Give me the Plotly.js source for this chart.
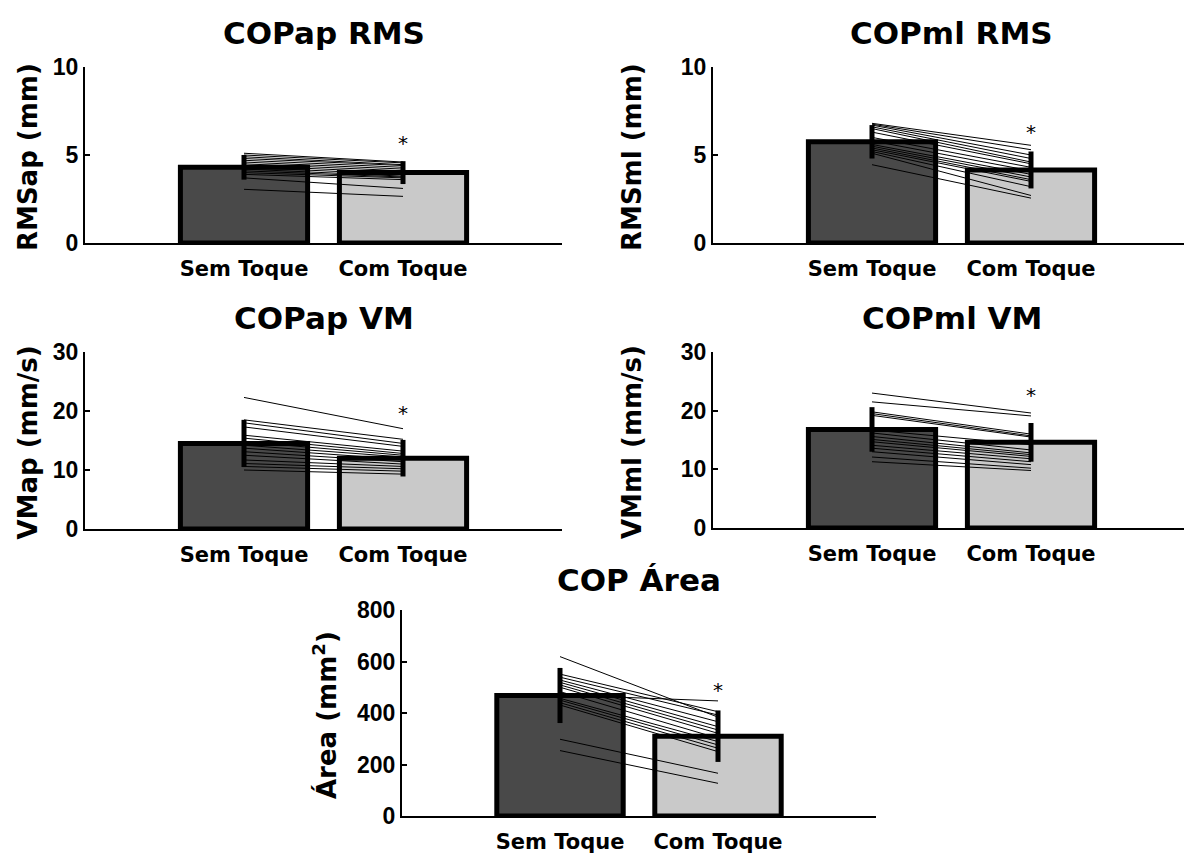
<!DOCTYPE html>
<html>
<head>
<meta charset="utf-8">
<script src="https://cdn.plot.ly/plotly-3.0.1.min.js"></script>
<style>html,body{margin:0;padding:0;background:#fff;}#chart{width:1184px;height:854px;}</style>
</head>
<body>
<div id="chart"></div>
<script>
// ---------------- data ----------------
const categories = ['Sem Toque', 'Com Toque'];
const catPos = [1, 2];

const rmsapMean = [4.3, 4.0];
const rmsapSD = [0.7, 0.65];
const rmsapSem = [5.1, 5.0, 4.9, 4.8, 4.7, 4.6, 4.5, 4.4, 4.3, 4.2, 4.1, 4.0, 3.9, 3.7, 3.05];
const rmsapCom = [4.6, 4.55, 4.45, 4.4, 4.3, 4.2, 4.1, 4.0, 3.9, 3.8, 3.75, 3.7, 3.6, 3.1, 2.65];
const rmsapStar = 5.7;

const rmsmlMean = [5.75, 4.15];
const rmsmlSD = [0.95, 1.05];
const rmsmlSem = [6.8, 6.75, 6.7, 6.6, 6.5, 6.3, 6.0, 5.8, 5.6, 5.5, 5.4, 5.3, 5.2, 5.1, 4.45];
const rmsmlCom = [5.55, 5.3, 5.0, 4.8, 4.6, 4.5, 4.3, 4.1, 3.9, 3.75, 3.6, 3.5, 3.2, 2.7, 2.55];
const rmsmlStar = 6.3;

const vmapMean = [14.5, 12.0];
const vmapSD = [4.0, 3.1];
const vmapSem = [22.3, 18.5, 18.0, 17.3, 15.9, 15.4, 14.8, 14.2, 13.7, 13.1, 12.5, 11.7, 11.1, 10.6, 10.0];
const vmapCom = [17.0, 15.2, 14.5, 14.0, 13.2, 12.8, 12.5, 12.2, 11.8, 11.4, 11.0, 10.6, 10.2, 9.8, 9.3];
const vmapStar = 19.6;

const vmmlMean = [16.8, 14.6];
const vmmlSD = [3.8, 3.3];
const vmmlSem = [23.0, 21.5, 19.8, 19.5, 19.2, 16.7, 16.2, 15.6, 15.1, 14.7, 14.1, 13.6, 13.0, 12.1, 11.3];
const vmmlCom = [19.6, 19.1, 16.0, 15.7, 15.5, 14.2, 13.3, 12.8, 12.5, 12.2, 11.8, 11.3, 10.8, 10.2, 9.8];
const vmmlStar = 22.6;

const areaMean = [468, 310];
const areaSD = [107, 100];
const areaSem = [619, 551, 539, 528, 519, 509, 500, 483, 470, 457, 450, 440, 431, 298, 254];
const areaCom = [384, 405, 392, 366, 347, 334, 321, 302, 447, 289, 276, 263, 250, 166, 127];
const areaStar = 490;

const titles = ['COPap RMS', 'COPml RMS', 'COPap VM', 'COPml VM', 'COP Área'];
const yTitles = ['RMSap (mm)', 'RMSml (mm)', 'VMap (mm/s)', 'VMml (mm/s)', 'Área (mm<sup>2</sup>)'];
const yTicks = [[0, 5, 10], [0, 5, 10], [0, 10, 20, 30], [0, 10, 20, 30], [0, 200, 400, 600, 800]];

// ---------------- layout helpers ----------------
const W = 1184, H = 854;
const px = v => v / W;
const py = v => 1 - v / H;

const panels = [
  {mean: rmsapMean, sd: rmsapSD, sem: rmsapSem, com: rmsapCom, star: rmsapStar,
   xd: [85, 562], yd: [67, 243], xr: [0, 3], tTop: 33, ytX: 28},
  {mean: rmsmlMean, sd: rmsmlSD, sem: rmsmlSem, com: rmsmlCom, star: rmsmlStar,
   xd: [713, 1184], yd: [67, 243], xr: [0, (1184 - 713) / 159], tTop: 33, ytX: 632},
  {mean: vmapMean, sd: vmapSD, sem: vmapSem, com: vmapCom, star: vmapStar,
   xd: [85, 562], yd: [352, 529], xr: [0, 3], tTop: 318, ytX: 28},
  {mean: vmmlMean, sd: vmmlSD, sem: vmmlSem, com: vmmlCom, star: vmmlStar,
   xd: [713, 1184], yd: [352, 528], xr: [0, (1184 - 713) / 159], tTop: 318, ytX: 632},
  {mean: areaMean, sd: areaSD, sem: areaSem, com: areaCom, star: areaStar,
   xd: [402, 876], yd: [610, 816], xr: [0, 3], tTop: 580, ytX: 325}
];

const barColors = ['#494949', '#c9c9c9'];
const data = [];
const layout = {
  width: W, height: H,
  margin: {l: 0, r: 0, t: 0, b: 0},
  paper_bgcolor: '#ffffff', plot_bgcolor: 'rgba(0,0,0,0)',
  showlegend: false,
  annotations: []
};

panels.forEach((p, i) => {
  const n = i + 1;
  const xa = 'x' + (n === 1 ? '' : n), ya = 'y' + (n === 1 ? '' : n);
  const xk = 'xaxis' + (n === 1 ? '' : n), yk = 'yaxis' + (n === 1 ? '' : n);
  const yTop = yTicks[i][yTicks[i].length - 1];

  data.push({
    type: 'bar', x: catPos, y: p.mean, width: 0.8,
    xaxis: xa, yaxis: ya,
    marker: {color: barColors, line: {color: '#000', width: 5}},
    error_y: {type: 'data', array: p.sd, visible: true, color: '#000', thickness: 5, width: 0},
    hoverinfo: 'skip'
  });

  const lx = [], ly = [];
  p.sem.forEach((v, k) => { lx.push(catPos[0], catPos[1], null); ly.push(v, p.com[k], null); });
  data.push({
    type: 'scatter', mode: 'lines', x: lx, y: ly, xaxis: xa, yaxis: ya,
    line: {color: '#000', width: 1}, hoverinfo: 'skip', connectgaps: false
  });

  layout[xk] = {
    domain: [px(p.xd[0]), px(p.xd[1])], range: p.xr, anchor: ya,
    showline: true, linecolor: '#000', linewidth: 2, zeroline: false, showgrid: false,
    tickmode: 'array', tickvals: catPos, ticktext: categories,
    ticks: 'outside', ticklen: 6, tickcolor: 'rgba(0,0,0,0)',
    tickfont: {family: 'DejaVu Sans', size: 21, color: '#000', weight: 'bold'},
    fixedrange: true
  };
  layout[yk] = {
    domain: [py(p.yd[1]), py(p.yd[0])], range: [0, yTop], anchor: xa,
    showline: true, linecolor: '#000', linewidth: 2, zeroline: false, showgrid: false,
    tickmode: 'array', tickvals: yTicks[i],
    ticks: 'inside', ticklen: 5, tickwidth: 2, tickcolor: '#000',
    tickfont: {family: 'Liberation Sans', size: 23, color: '#000', weight: 'bold'},
    fixedrange: true
  };

  // panel title
  layout.annotations.push({
    xref: 'paper', yref: 'paper', x: px((p.xd[0] + (p.xd[0] + 477)) / 2 - (i === 4 ? 2 : 0)),
    y: py(p.tTop), xanchor: 'center', yanchor: 'middle', showarrow: false,
    text: titles[i], font: {family: 'DejaVu Sans', size: 31, color: '#000', weight: 'bold'}
  });
  // y axis title
  layout.annotations.push({
    xref: 'paper', yref: 'paper', x: px(p.ytX), y: py((p.yd[0] + p.yd[1]) / 2 + 2),
    xanchor: 'center', yanchor: 'middle', showarrow: false, textangle: -90,
    text: yTitles[i], font: {family: 'DejaVu Sans', size: 26, color: '#000', weight: 'bold'}
  });
  // significance star
  layout.annotations.push({
    xref: xa, yref: ya, x: catPos[1], y: p.star, xanchor: 'center', yanchor: 'middle',
    showarrow: false, text: '*', font: {family: 'DejaVu Sans', size: 20, color: '#000'}
  });
});

Plotly.newPlot('chart', data, layout, {displayModeBar: false, staticPlot: true});
</script>
</body>
</html>
